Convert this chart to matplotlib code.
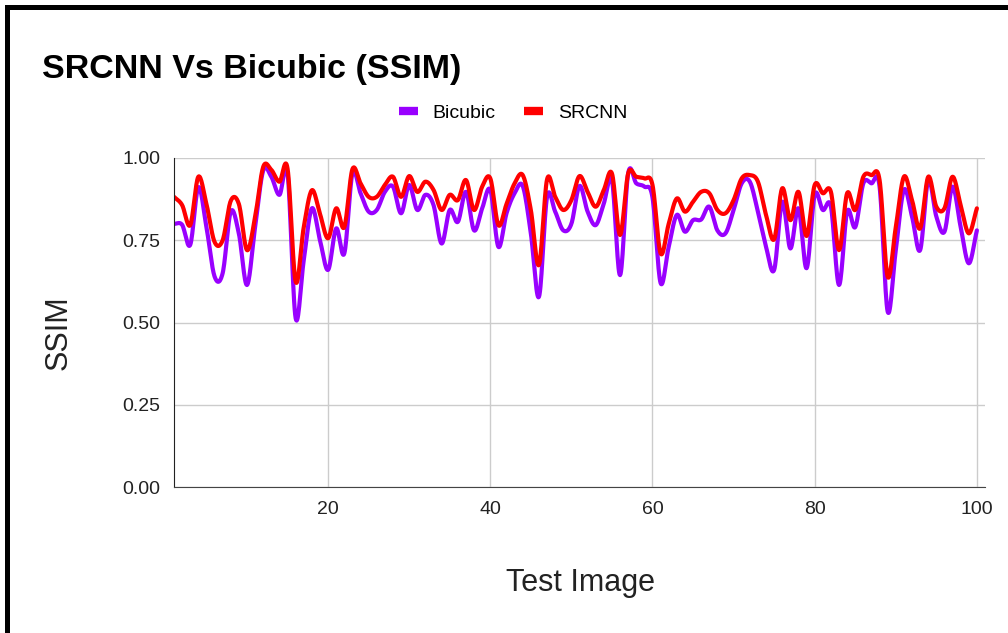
import numpy as np
import matplotlib.pyplot as plt
from matplotlib.patches import Rectangle

plt.rcParams['font.family'] = ['Liberation Sans', 'DejaVu Sans']

# test image index
images = list(range(1, 101))

bicubic = [0.800, 0.797, 0.736, 0.911, 0.790, 0.640, 0.650, 0.837, 0.770, 0.614,
           0.790, 0.962, 0.943, 0.888, 0.953, 0.513, 0.690, 0.847, 0.750, 0.660,
           0.786, 0.710, 0.953, 0.893, 0.837, 0.842, 0.897, 0.913, 0.832, 0.918,
           0.842, 0.888, 0.857, 0.740, 0.842, 0.806, 0.897, 0.780, 0.847, 0.903,
           0.730, 0.832, 0.893, 0.915, 0.771, 0.578, 0.882, 0.837, 0.780, 0.800,
           0.915, 0.837, 0.796, 0.862, 0.933, 0.644, 0.953, 0.923, 0.913, 0.880,
           0.620, 0.730, 0.827, 0.776, 0.811, 0.813, 0.852, 0.780, 0.771, 0.842,
           0.923, 0.928, 0.837, 0.730, 0.660, 0.867, 0.725, 0.847, 0.665, 0.888,
           0.842, 0.852, 0.614, 0.837, 0.790, 0.923, 0.923, 0.913, 0.533, 0.720,
           0.903, 0.822, 0.720, 0.933, 0.822, 0.776, 0.913, 0.790, 0.680, 0.780]

srcnn = [0.882, 0.857, 0.796, 0.943, 0.860, 0.745, 0.750, 0.870, 0.860, 0.720,
         0.820, 0.973, 0.964, 0.928, 0.968, 0.624, 0.790, 0.902, 0.830, 0.756,
         0.847, 0.790, 0.966, 0.923, 0.882, 0.882, 0.918, 0.943, 0.882, 0.945,
         0.897, 0.928, 0.903, 0.842, 0.888, 0.872, 0.933, 0.842, 0.913, 0.938,
         0.796, 0.860, 0.923, 0.948, 0.842, 0.675, 0.935, 0.882, 0.842, 0.872,
         0.945, 0.897, 0.852, 0.903, 0.953, 0.766, 0.953, 0.943, 0.938, 0.918,
         0.710, 0.800, 0.877, 0.837, 0.867, 0.897, 0.893, 0.842, 0.832, 0.872,
         0.938, 0.948, 0.928, 0.827, 0.753, 0.908, 0.811, 0.897, 0.763, 0.918,
         0.893, 0.897, 0.720, 0.893, 0.842, 0.943, 0.948, 0.933, 0.639, 0.790,
         0.943, 0.872, 0.786, 0.943, 0.852, 0.847, 0.943, 0.857, 0.771, 0.847]


def smooth(x, y, n=16):
    # catmull-rom curve through the points, like the sheets "smooth" line
    x = np.asarray(x, float)
    y = np.asarray(y, float)
    px = np.concatenate([[2 * x[0] - x[1]], x, [2 * x[-1] - x[-2]]])
    py = np.concatenate([[2 * y[0] - y[1]], y, [2 * y[-1] - y[-2]]])
    t = np.linspace(0, 1, n, endpoint=False)
    xs, ys = [], []
    for i in range(1, len(px) - 2):
        for p, out in ((px, xs), (py, ys)):
            p0, p1, p2, p3 = p[i - 1], p[i], p[i + 1], p[i + 2]
            out.append(0.5 * (2 * p1 + (-p0 + p2) * t
                              + (2 * p0 - 5 * p1 + 4 * p2 - p3) * t ** 2
                              + (-p0 + 3 * p1 - 3 * p2 + p3) * t ** 3))
    xs.append([x[-1]])
    ys.append([y[-1]])
    return np.concatenate(xs), np.concatenate(ys)


fig = plt.figure(figsize=(10.08, 6.33), dpi=100)
ax = fig.add_axes([174 / 1008, 1 - 487 / 633, (985 - 174) / 1008, (487 - 158) / 633])

bx, by = smooth(images, bicubic)
sx, sy = smooth(images, srcnn)
ax.plot(bx, by, color='#9900ff', lw=3, label='Bicubic', solid_capstyle='round')
ax.plot(sx, sy, color='#ff0000', lw=3, label='SRCNN', solid_capstyle='round')

ax.set_xlim(1, 101)
ax.set_ylim(0, 1)
ax.set_xticks([20, 40, 60, 80, 100])
ax.set_yticks([0, 0.25, 0.5, 0.75, 1.0])
ax.set_yticklabels(['0.00', '0.25', '0.50', '0.75', '1.00'])
ax.grid(True, color='#cccccc', lw=1)
ax.set_axisbelow(True)
ax.tick_params(length=0, labelsize=14, colors='#222222', pad=10)
for s in ['top', 'right']:
    ax.spines[s].set_visible(False)
ax.spines['left'].set_color('#222222')
ax.spines['bottom'].set_color('#444444')

fig.text(42 / 1008, 1 - 78 / 633, 'SRCNN Vs Bicubic (SSIM)', fontsize=24.5,
         fontweight='bold', va='baseline', ha='left')
fig.text(59 / 1008, 1 - 333 / 633, 'SSIM', fontsize=22, rotation=90,
         va='center', ha='center', color='#222222')
fig.text(580 / 1008, 1 - 583 / 633, 'Test Image', fontsize=22,
         va='center', ha='center', color='#222222')

fig.legend(loc='center', bbox_to_anchor=(513 / 1008, 1 - 113 / 633), ncol=2,
           frameon=False, fontsize=14, handlelength=1.0, handletextpad=0.75,
           columnspacing=1.45)
for line in fig.legends[0].get_lines():
    line.set_linewidth(6)
    line.set_solid_capstyle('butt')

# black frame around the chart (cut off at right and bottom)
fig.add_artist(Rectangle((6.5 / 1008, -0.1), 1.2, 1 - 6.5 / 633 + 0.1,
                         transform=fig.transFigure, fill=False,
                         edgecolor='black', lw=3.6))

fig.savefig('out.png', dpi=100)
